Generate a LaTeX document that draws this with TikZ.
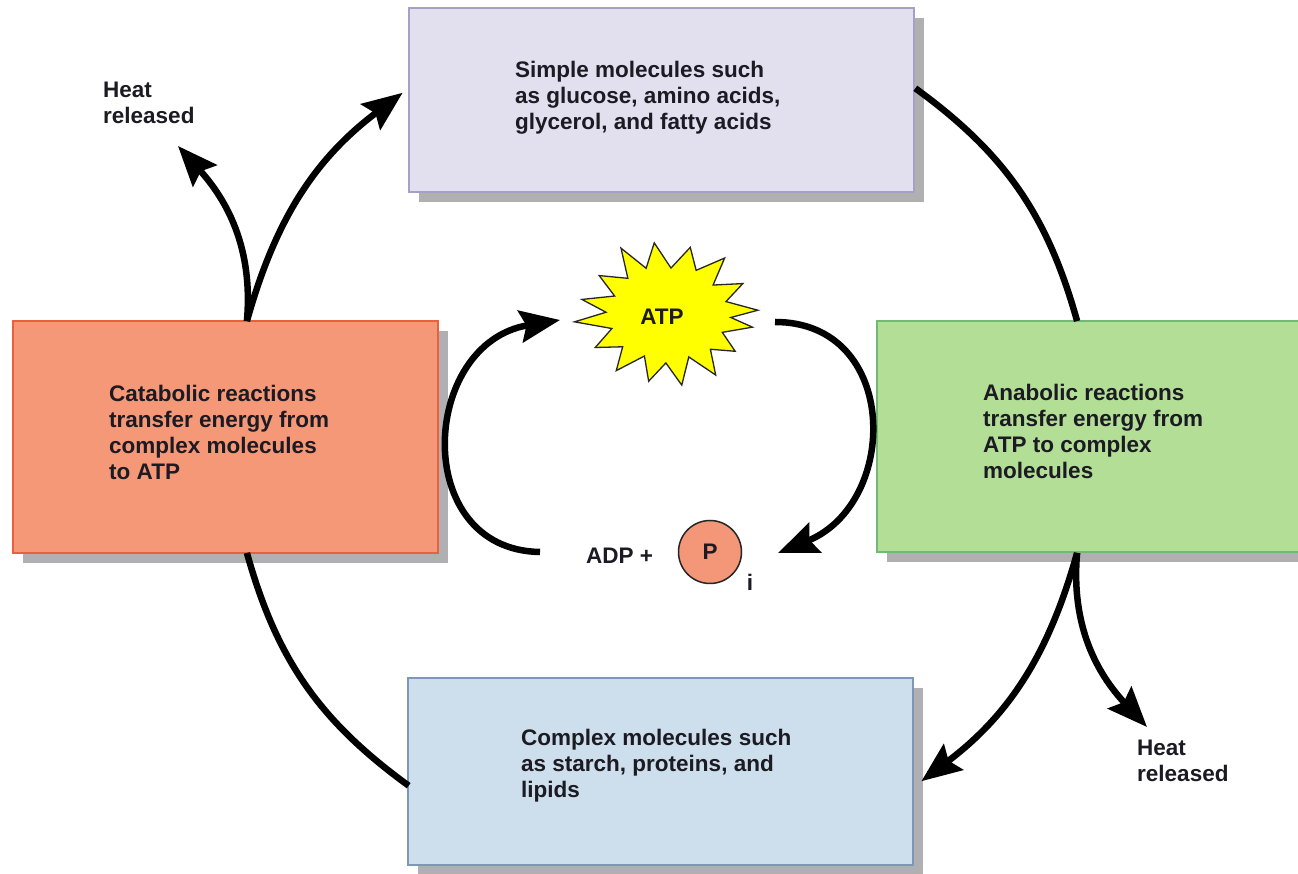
\documentclass[tikz,border=0pt]{standalone}
\usepackage{fontspec}
\setmainfont{Liberation Sans}
\usetikzlibrary{arrows.meta,calc,shadows}
\definecolor{simfill}{HTML}{E2DFEE}
\definecolor{simdraw}{HTML}{A79FC6}
\definecolor{catfill}{HTML}{F59878}
\definecolor{catdraw}{HTML}{EB5F3C}
\definecolor{anafill}{HTML}{B2DE96}
\definecolor{anadraw}{HTML}{73B973}
\definecolor{cpxfill}{HTML}{CDDEEC}
\definecolor{cpxdraw}{HTML}{7D97B8}
\definecolor{shade}{HTML}{B0B0B3}
\definecolor{txt}{HTML}{1C1A22}
\definecolor{pfill}{HTML}{F49678}
\definecolor{staryellow}{HTML}{FFFF00}
\tikzset{
 box/.style={draw, line width=1.3pt, inner sep=0pt, drop shadow={shadow xshift=10pt, shadow yshift=-10pt, fill=shade, opacity=1}},
 lbl/.style={font=\bfseries\fontsize{22.5}{26}\selectfont, text=txt, align=left, anchor=west, inner sep=0pt},
 conn/.style={line width=6.5pt, black},
 arr/.style={conn, -{Stealth[length=40pt, width=32pt, inset=6pt]}},
}
\begin{document}
\begin{tikzpicture}[x=1pt,y=1pt]
\useasboundingbox (0,0) rectangle (1298,873);
\fill[white] (0,0) rectangle (1298,873);

% boxes
\node[box, fill=simfill, draw=simdraw, minimum width=505pt, minimum height=184pt] (sim) at (661.5,773) {};
\node[box, fill=catfill, draw=catdraw, minimum width=425pt, minimum height=232pt] (cat) at (225.5,436) {};
\node[box, fill=anafill, draw=anadraw, minimum width=433pt, minimum height=231pt] (ana) at (1093.5,436.5) {};
\node[box, fill=cpxfill, draw=cpxdraw, minimum width=505pt, minimum height=187pt] (cpx) at (660.5,101.5) {};

% box texts
\node[lbl] (simT) at (515,775) {Simple molecules such\\as glucose, amino acids,\\glycerol, and fatty acids};
\node[lbl] (catT) at (109,441) {Catabolic reactions\\transfer energy from\\complex molecules\\to ATP};
\node[lbl] (anaT) at (983,442) {Anabolic reactions\\transfer energy from\\ATP to complex\\molecules};
\node[lbl] (cpxT) at (521,107) {Complex molecules such\\as starch, proteins, and\\lipids};
\node[lbl] (heatL) at (103,770) {Heat\\released};
\node[lbl] (heatR) at (1137,112) {Heat\\released};

% ATP star
\begin{scope}[shift={(668,559)}]
\filldraw[fill=staryellow, draw=black!85, line width=1.3pt]
 (3:90 and 72) -- (15:60 and 48) -- (27:84 and 67) -- (39:58 and 46)
 -- (51:90 and 72) -- (63:62 and 49) -- (75:86 and 69) -- (87:57 and 46)
 -- (99:88 and 72) -- (111:61 and 49) -- (120:94 and 76) -- (132:60 and 48)
 -- (145:84 and 67) -- (157:58 and 46) -- (168:88 and 70) -- (178:62 and 50)
 -- (186:94 and 75) -- (198:59 and 47) -- (210:84 and 67) -- (222:61 and 49)
 -- (234:88 and 70) -- (246:58 and 46) -- (257:86 and 69) -- (268:61 and 49)
 -- (279:88 and 72) -- (291:58 and 46) -- (302:90 and 72) -- (314:61 and 49)
 -- (325:82 and 65) -- (337:59 and 47) -- (349:86 and 69) -- (356:63 and 50) -- cycle;
\end{scope}
\node[font=\bfseries\fontsize{22.5}{26}\selectfont, text=txt, inner sep=0pt] (atp) at (662,556) {ATP};

% ADP + Pi
\node[lbl] (adp) at (586,317) {ADP +};
\node[circle, draw=black!85, line width=1.5pt, fill=pfill, minimum size=63pt, inner sep=0pt,
      font=\bfseries\fontsize{22.5}{26}\selectfont, text=txt] (P) at (710,321) {P};
\node[font=\bfseries\fontsize{22.5}{26}\selectfont, text=txt, inner sep=0pt] (Pi) at (750,291) {i};

% cycle coordinates
\coordinate (O) at (662,436);
\coordinate (catN) at ($(O)+(164.4:431)$);
\coordinate (simW) at ($(O)+(127:431)$);
\coordinate (simE) at ($(O)+(54:431)$);
\coordinate (anaN) at ($(O)+(15.6:431)$);
\coordinate (anaS) at ($(O)+(-15.6:431)$);
\coordinate (cpxE) at ($(O)+(-53:431)$);
\coordinate (cpxW) at ($(O)+(-126:431)$);
\coordinate (catS) at ($(O)+(-164.4:431)$);
\coordinate (heatLtip) at (178,727);
\coordinate (heatRtip) at (1147,146);

\draw[arr] (catN) to[bend left=18.7] (simW);
\draw[arr] (catN) to[out=85, in=-48] (heatLtip);
\draw[conn] (simE) to[bend left=19.2] (anaN);
\draw[arr] (anaS) to[bend left=18.7] (cpxE);
\draw[arr] (anaS) to[out=-95, in=133] (heatRtip);
\draw[conn] (cpxW) to[bend left=19.2] (catS);

% inner ATP/ADP arrows
\coordinate (adpL) at (540,321);
\coordinate (atpL) at (560,553);
\coordinate (atpR) at (775,551);
\coordinate (adpR) at (778,320);
\draw[arr] (adpL) .. controls (410,323) and (420,530) .. (atpL);
\draw[arr] (atpR) .. controls (900,551) and (900,370) .. (adpR);
\end{tikzpicture}
\end{document}
